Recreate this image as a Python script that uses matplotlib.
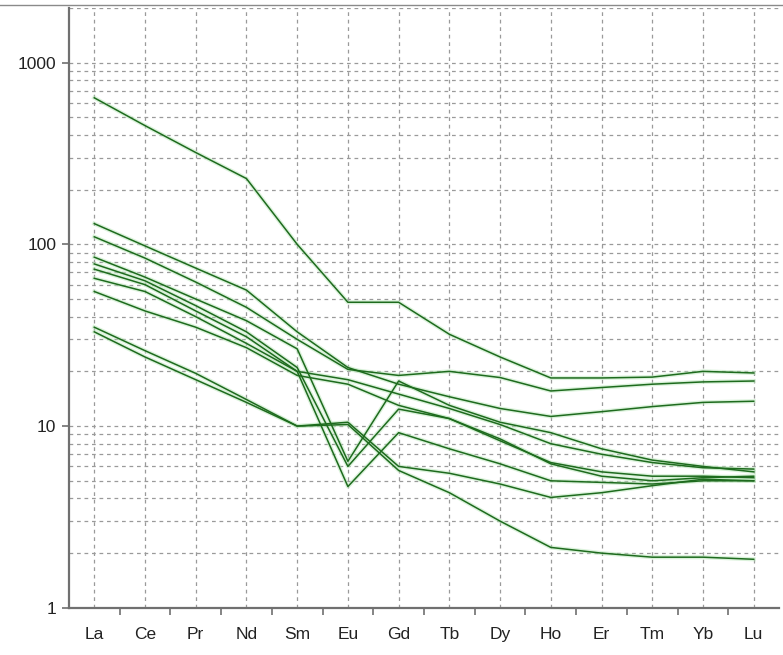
import matplotlib
matplotlib.use("Agg")
import matplotlib.pyplot as plt
from matplotlib.lines import Line2D

plt.rcParams['font.family'] = ['Liberation Sans', 'DejaVu Sans']

# elementos terras raras (normalizado ao condrito)
elements = ['La', 'Ce', 'Pr', 'Nd', 'Sm', 'Eu', 'Gd', 'Tb', 'Dy', 'Ho', 'Er', 'Tm', 'Yb', 'Lu']

s1 = [640, 450, 320, 230, 100, 48, 48, 32, 24, 18.4, 18.4, 18.6, 20, 19.6]
s2 = [130, 98, 74, 56, 33, 21, 17, 14.5, 12.5, 11.3, 12, 12.8, 13.5, 13.7]
s3 = [110, 84, 62, 45, 30, 20.5, 19, 20, 18.5, 15.6, 16.3, 17, 17.5, 17.7]
s4 = [85, 66, 50, 38, 26.6, 6.4, 17.7, 13, 10.5, 9.2, 7.5, 6.5, 6.0, 5.6]
s5 = [78, 63, 46, 33, 21, 6.0, 12.4, 11, 8.3, 6.3, 5.6, 5.3, 5.3, 5.2]
s6 = [73, 60, 43, 31, 20, 4.65, 9.2, 7.5, 6.2, 5.0, 4.9, 4.8, 5.0, 5.0]
s7 = [65, 55, 40, 28.5, 20, 18, 15, 12.5, 10.2, 8.0, 7.0, 6.3, 5.9, 5.8]
s8 = [55, 43, 35, 27, 19, 17, 13, 11, 8.5, 6.2, 5.3, 5.0, 5.2, 5.3]
s9 = [35, 26, 19.5, 14, 10, 10.5, 6.0, 5.5, 4.8, 4.05, 4.3, 4.7, 5.1, 5.0]
s10 = [33, 24, 18, 13.5, 10, 10.2, 5.7, 4.3, 3.0, 2.15, 2.0, 1.9, 1.9, 1.85]
samples = [s1, s2, s3, s4, s5, s6, s7, s8, s9, s10]

y_ticks = [1, 10, 100, 1000]
y_labels = ['1', '10', '100', '1000']

fig = plt.figure(figsize=(7.83, 6.55), dpi=100)
ax = fig.add_axes([0.088, 0.072, 0.907, 0.916])

x = list(range(len(elements)))
for s in samples:
    # halo verde claro + linha verde escura
    ax.plot(x, s, color='#b9e6b9', lw=3.0, alpha=0.5, zorder=2)
    ax.plot(x, s, color='#1e6b1e', lw=1.1, zorder=3)

ax.set_yscale('log')
ax.set_ylim(1, 2000)
ax.set_xlim(-0.5, len(elements) - 0.5)

# grade tracejada
grid_kw = dict(color='#9a9a9a', lw=0.9, dashes=(3, 3), zorder=1)
for xi in x:
    ax.axvline(xi, **grid_kw)
for dec in [1, 10, 100, 1000]:
    for m in range(1, 10):
        v = dec * m
        if 1 < v <= 2000:
            ax.axhline(v, **grid_kw)

ax.set_yticks(y_ticks)
ax.set_yticklabels(y_labels)
ax.yaxis.set_minor_locator(matplotlib.ticker.NullLocator())
ax.tick_params(axis='y', which='major', length=5, width=1.2, color='#707070',
               labelsize=12.5, pad=4, labelcolor='#222222')

# ticks do eixo x entre as categorias, rotulos nas categorias
ax.set_xticks([i + 0.5 for i in range(len(elements) - 1)])
ax.set_xticklabels([])
ax.set_xticks(x, minor=True)
ax.set_xticklabels(elements, minor=True)
ax.tick_params(axis='x', which='major', length=5, width=1.2, color='#707070', direction='out')
ax.tick_params(axis='x', which='minor', length=0, labelsize=12.5, pad=14, labelcolor='#222222')

for side in ['top', 'right']:
    ax.spines[side].set_visible(False)
for side in ['left', 'bottom']:
    ax.spines[side].set_color('#707070')
    ax.spines[side].set_linewidth(1.6)

# borda superior da imagem
fig.add_artist(Line2D([0, 1], [1 - 5 / 655, 1 - 5 / 655], color='#8a8a8a', lw=1.0,
                      transform=fig.transFigure))

fig.savefig('out.png', dpi=100, facecolor='white')
